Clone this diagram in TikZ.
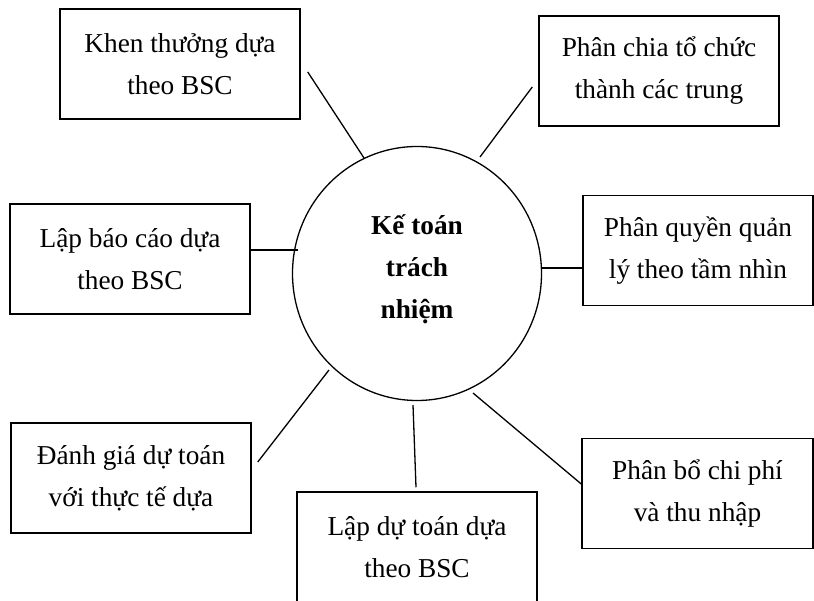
\documentclass[tikz,border=0pt]{standalone}
\usepackage{fontspec}
\setmainfont{Liberation Serif}
\usetikzlibrary{shapes.geometric,calc}
\begin{document}
\begin{tikzpicture}[x=1pt,y=-1pt,
  box/.style={draw,rectangle,line width=1.5pt,minimum width=240pt,minimum height=110pt,
    inner sep=0pt,align=center,font=\fontsize{27.3}{42}\selectfont},
  hub/.style={draw,ellipse,line width=1.3pt,minimum width=249pt,minimum height=254pt,inner sep=0pt},
  hubtext/.style={align=center,inner sep=0pt,font=\fontsize{27.3}{42}\selectfont\bfseries},
  link/.style={line width=1.3pt}]
\useasboundingbox (0,0) rectangle (814,601);
\begin{scope}
\clip (0,0) rectangle (814,601);
\node[hub] (ke) at (417,273.5) {};
\node[hubtext] (kt) at (417,269.5) {Kế toán\\trách\\nhiệm};
\node[box] (k1) at (180,64) {Khen thưởng dựa\\theo BSC};
\node[box] (k2) at (659,71) {Phân chia tổ chức\\thành các trung};
\node[box,minimum width=230pt] (k3) at (698,250.5) {Phân quyền quản\\lý theo tầm nhìn};
\node[box] (k4) at (130,259) {Lập báo cáo dựa\\theo BSC};
\node[box] (k5) at (131,478) {Đánh giá dự toán\\với thực tế dựa};
\node[box] (k6) at (417,547) {Lập dự toán dựa\\theo BSC};
\node[box,minimum width=231pt] (k7) at (697.5,493.5) {Phân bổ chi phí\\và thu nhập};
\end{scope}
\draw[link] ($(ke.center)+(-53,-115.5)$) -- ($(k1.east)+(7,8)$);
\draw[link] ($(ke.center)+(63,-116.5)$) -- ($(k2.west)+(-6,16)$);
\draw[link] ($(ke.center)+(124.5,-5.5)$) -- ($(k3.west)+(0,17.5)$);
\draw[link] ($(ke.center)+(-119,-23.5)$) -- ($(k4.east)+(0,-9)$);
\draw[link] ($(ke.center)+(-88,96.5)$) -- ($(k5.east)+(6,-16)$);
\draw[link] ($(ke.center)+(-4,131.5)$) -- ($(k6.north)+(-1,-4)$);
\draw[link] ($(ke.center)+(56,119.5)$) -- ($(k7.west)+(0,-9.5)$);
\end{tikzpicture}
\end{document}
